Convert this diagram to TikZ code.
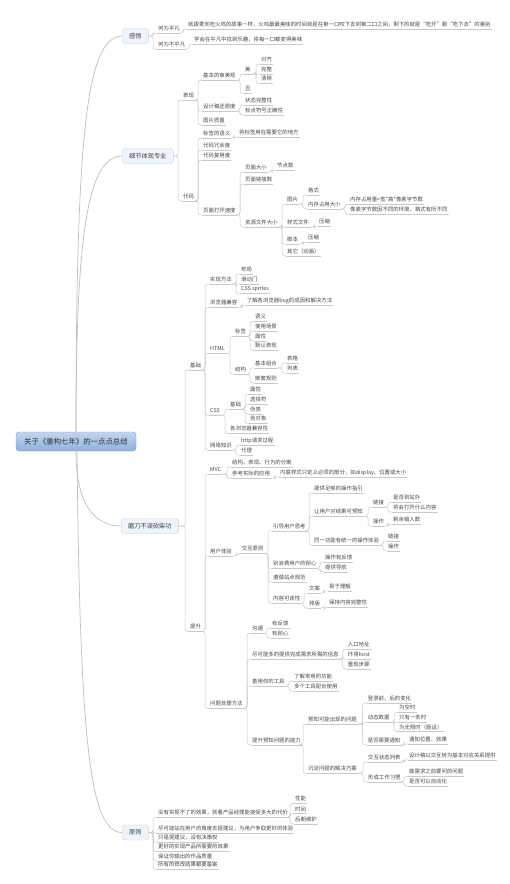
\documentclass[tikz,border=0pt]{standalone}
\usepackage{fontspec}
\setmainfont{Noto Sans CJK SC}
\usepackage{xcolor}
\usepackage{tikz}
\definecolor{roottop}{HTML}{C2D5EF}
\definecolor{rootbot}{HTML}{8FB0DC}
\definecolor{rootline}{HTML}{7E9FCC}
\definecolor{topicfill}{HTML}{EEF4FB}
\definecolor{topicline}{HTML}{C5D5E8}
\definecolor{linegray}{HTML}{C9C9C9}
\newcommand\tnfont{\fontsize{5.4}{6}\selectfont}
% parent underline -> child underline, elbow trunk just before the child
\newcommand\lnk[2]{\draw[ln] (#1.south east) -| ([xshift=-4pt]#2.south west) -- (#2.south west);}
\newcommand\lnkb[2]{\draw[ln] (#1.east) -| ([xshift=-4pt]#2.south west) -- (#2.south west);}
\tikzset{
    rootbox/.style={draw=rootline, top color=roottop, bottom color=rootbot, rounded corners=3pt,
                    font=\fontsize{7.4}{8}\selectfont, text=black!80, minimum width=120pt, minimum height=19pt},
    topic/.style={anchor=west, draw=topicline, fill=topicfill, rounded corners=3pt,
                  font=\fontsize{6.2}{7}\selectfont, text=black!75, inner xsep=7pt, minimum height=15pt},
    tn/.style={anchor=west, font=\tnfont, text=black!72, inner xsep=1pt, inner ysep=1.2pt,
               text height=4.3pt, text depth=1.1pt,
               append after command={(\tikzlastnode.south west) edge[uline] (\tikzlastnode.south east)}},
    uline/.style={draw=linegray, line width=0.45pt},
    ln/.style={draw=linegray, line width=0.5pt, rounded corners=2.5pt},
    rln/.style={draw=black!25, line width=0.7pt},
}

\begin{document}
\begin{tikzpicture}[x=1pt, y=-1pt]
    \fill[white] (0,0) rectangle (510,884);
    \useasboundingbox (0,0) rectangle (510,884);

    \node[rootbox] (root) at (76,441.5) {关于《重构七年》的一点点总结};
    \node[topic] (insight) at (122,36) {感悟};
    \node[topic] (detail) at (122,156) {细节体现专业};
    \node[topic] (grind) at (121,526) {磨刀不误砍柴功};
    \node[topic] (principle) at (122,832.5) {原则};
    \draw[rln] (root.north) .. controls (76,120) and (88,38) .. (insight.west);
    \draw[rln] (root.north) .. controls (76,230) and (88,157) .. (detail.west);
    \draw[rln] (root.south) .. controls (76,505) and (95,526) .. (grind.west);
    \draw[rln] ([xshift=1pt]root.south) .. controls (80,745) and (90,832) .. (principle.west);

    % 感悟
    \node[tn] (ordinary) at (157,29) {何为平凡};
    \node[tn] (ordtxt) at (187,25) {就跟麦兜吃火鸡的故事一样，火鸡最最美味的时间就是在第一口咬下去到第二口之间，剩下的就是“吃开”跟“吃下去”的差别};
    \node[tn] (extra) at (157,45) {何为不平凡};
    \node[tn] (extxt) at (193,40) {学会在平凡中找到乐趣，将每一口都变得美味};
    \lnkb{insight}{ordinary} \lnkb{insight}{extra}
    \lnk{ordinary}{ordtxt} \lnk{extra}{extxt}

    % 细节体现专业
    \node[tn] (look) at (182,95.7) {表现};
    \node[tn] (aesth) at (202,76) {基本的审美观};
    \node[tn] (beauty) at (244,70) {美};
    \node[tn] (align) at (260,60) {对齐};
    \node[tn] (whole) at (260,69.7) {完整};
    \node[tn] (clear) at (260,79.3) {清晰};
    \node[tn] (ugly) at (244,89.3) {丑};
    \node[tn] (fidelity) at (202,106.7) {设计稿还原度};
    \node[tn] (state) at (244,101) {状态完整性};
    \node[tn] (punct) at (244,111) {标点符号正确性};
    \node[tn] (imgq) at (202,121) {图片质量};
    \node[tn] (code) at (182,197) {代码};
    \node[tn] (semtag) at (202,134) {标签的语义};
    \node[tn] (semtxt) at (238,132.7) {将标签用在需要它的地方};
    \node[tn] (redund) at (202,145.7) {代码冗余度};
    \node[tn] (reuse) at (202,156) {代码复用度};
    \node[tn] (speed) at (202,210.7) {页面打开速度};
    \node[tn] (psize) at (244,168) {页面大小};
    \node[tn] (nodecnt) at (276,166) {节点数};
    \node[tn] (plinks) at (244,180) {页面链接数};
    \node[tn] (res) at (244,222.7) {资源文件大小};
    \node[tn] (img) at (286,200) {图片};
    \node[tn] (fmt) at (307,190.7) {格式};
    \node[tn] (mem) at (307,204.7) {内存占用大小};
    \node[tn] (memtxt) at (349,200) {内存占用量=宽*高*像素字节数};
    \node[tn] (pixtxt) at (349,210) {像素字节数因不同的环境、格式有所不同};
    \node[tn] (sheet) at (286,223.3) {样式文件};
    \node[tn] (sheetzip) at (318,221.7) {压缩};
    \node[tn] (script) at (286,240) {脚本};
    \node[tn] (scriptzip) at (307,238) {压缩};
    \node[tn] (other) at (286,251.7) {其它（动画）};
    \lnkb{detail}{look} \lnkb{detail}{code}
    \foreach \c in {aesth,fidelity,imgq} \lnk{look}{\c};
    \lnk{aesth}{beauty} \lnk{aesth}{ugly}
    \foreach \c in {align,whole,clear} \lnk{beauty}{\c};
    \lnk{fidelity}{state} \lnk{fidelity}{punct}
    \foreach \c in {semtag,redund,reuse,speed} \lnk{code}{\c};
    \lnk{semtag}{semtxt}
    \foreach \c in {psize,plinks,res} \lnk{speed}{\c};
    \lnk{psize}{nodecnt}
    \foreach \c in {img,sheet,script,other} \lnk{res}{\c};
    \lnk{img}{fmt} \lnk{img}{mem}
    \lnk{mem}{memtxt} \lnk{mem}{pixtxt}
    \lnk{sheet}{sheetzip} \lnk{script}{scriptzip}

    % 磨刀不误砍柴功 / 基础
    \node[tn] (basic) at (189,365.7) {基础};
    \node[tn] (impl) at (209,280) {实现方法};
    \node[tn] (layout) at (240,269.7) {布局};
    \node[tn] (sliding) at (240,279.7) {滑动门};
    \node[tn] (sprites) at (240,289.3) {CSS sprites};
    \node[tn] (compat) at (209,303.3) {浏览器兼容};
    \node[tn] (compattxt) at (245.7,301) {了解各浏览器bug的成因和解决方法};
    \node[tn] (html) at (209,349.3) {HTML};
    \node[tn] (tags) at (234,332.3) {标签};
    \node[tn] (sem) at (254,317.3) {语义};
    \node[tn] (usage) at (254,327) {使用场景};
    \node[tn] (attrs) at (254,336.7) {属性};
    \node[tn] (defaults) at (254,346.3) {默认表现};
    \node[tn] (struct) at (234,370) {结构};
    \node[tn] (combo) at (254,363.7) {基本组合};
    \node[tn] (table) at (286,358.7) {表格};
    \node[tn] (list) at (286,369) {列表};
    \node[tn] (nesting) at (254,378.7) {嵌套规则};
    \node[tn] (css) at (209,411) {CSS};
    \node[tn] (cssbase) at (229,405) {基础};
    \node[tn] (prop) at (249,390) {属性};
    \node[tn] (sel) at (249,400) {选择符};
    \node[tn] (pcls) at (249,410) {伪类};
    \node[tn] (pobj) at (249,419.3) {伪对象};
    \node[tn] (csscompat) at (229,429.3) {各浏览器兼容性};
    \node[tn] (net) at (209,446) {网络知识};
    \node[tn] (http) at (240,441) {http请求过程};
    \node[tn] (proxy) at (240,451) {代理};
    \lnkb{grind}{basic}
    \foreach \c in {impl,compat,html,css,net} \lnk{basic}{\c};
    \foreach \c in {layout,sliding,sprites} \lnk{impl}{\c};
    \lnk{compat}{compattxt}
    \lnk{html}{tags} \lnk{html}{struct}
    \foreach \c in {sem,usage,attrs,defaults} \lnk{tags}{\c};
    \lnk{struct}{combo} \lnk{struct}{nesting}
    \lnk{combo}{table} \lnk{combo}{list}
    \lnk{css}{cssbase} \lnk{css}{csscompat}
    \foreach \c in {prop,sel,pcls,pobj} \lnk{cssbase}{\c};
    \lnk{net}{http} \lnk{net}{proxy}

    % 磨刀不误砍柴功 / 提升
    \node[tn] (adv) at (189,627.3) {提升};
    \node[tn] (mvc) at (209,470) {MVC};
    \node[tn] (split) at (231,462.7) {结构、表现、行为的分离};
    \node[tn] (apply) at (231,474.3) {参考实际的应用};
    \node[tn] (inline) at (279,472.7) {内联样式只定义必须的部分，如display、位置或大小};
    \node[tn] (ux) at (209,551.7) {用户体验};
    \node[tn] (rules) at (240.7,549.3) {交互原则};
    \node[tn] (guide) at (272,526.7) {引导用户思考};
    \node[tn] (hint) at (313,488.7) {提供足够的操作指引};
    \node[tn] (predict) at (313,512) {让用户对结果可预知};
    \node[tn] (plink) at (372,503) {链接};
    \node[tn] (offsite) at (392,498.3) {是否到站外};
    \node[tn] (opens) at (392,508) {将会打开什么内容};
    \node[tn] (pop) at (372,522) {操作};
    \node[tn] (remain) at (392,520) {剩余输入数};
    \node[tn] (unify) at (313,541) {同一功能有统一的操作体验};
    \node[tn] (ulink) at (387,536.7) {链接};
    \node[tn] (uop) at (387,546.7) {操作};
    \node[tn] (patience) at (272,564.3) {别浪费用户的耐心};
    \node[tn] (feedback) at (324,557.7) {操作有反馈};
    \node[tn] (nav) at (324,567.7) {提供导航};
    \node[tn] (norms) at (272,577.7) {遵循站点规范};
    \node[tn] (read) at (272,599.3) {内容可读性};
    \node[tn] (copy) at (308,589) {文案};
    \node[tn] (easy) at (328,586.7) {易于理解};
    \node[tn] (typo) at (308,604) {排版};
    \node[tn] (intact) at (328,603.3) {保持内容完整性};
    \lnkb{grind}{adv}
    \lnk{adv}{mvc} \lnk{adv}{ux}
    \lnk{mvc}{split} \lnk{mvc}{apply} \lnk{apply}{inline}
    \lnk{ux}{rules}
    \foreach \c in {guide,patience,norms,read} \lnk{rules}{\c};
    \foreach \c in {hint,predict,unify} \lnk{guide}{\c};
    \lnk{predict}{plink} \lnk{predict}{pop}
    \lnk{plink}{offsite} \lnk{plink}{opens} \lnk{pop}{remain}
    \lnk{unify}{ulink} \lnk{unify}{uop}
    \lnk{patience}{feedback} \lnk{patience}{nav}
    \lnk{read}{copy} \lnk{read}{typo}
    \lnk{copy}{easy} \lnk{typo}{intact}

    % 问题处理方法
    \node[tn] (method) at (209,704.3) {问题处理方法};
    \node[tn] (talk) at (251,629.3) {沟通};
    \node[tn] (fb) at (271,624) {有反馈};
    \node[tn] (patient) at (271,634) {有耐心};
    \node[tn] (info) at (251,655) {尽可能多的提供完成需求所需的信息};
    \node[tn] (entry) at (346.7,645.3) {入口地址};
    \node[tn] (host) at (346.7,655) {环境host};
    \node[tn] (repro) at (346.7,664.7) {重现步骤};
    \node[tn] (tools) at (251,681.7) {善用你的工具};
    \node[tn] (common) at (293,676.7) {了解常用的功能};
    \node[tn] (combine) at (293,687) {多个工具配合使用};
    \node[tn] (foresee) at (251,740.7) {提升预知问题的能力};
    \node[tn] (pre) at (307,720) {预知可能出现的问题};
    \node[tn] (login) at (366.7,698.7) {登录前、后的变化};
    \node[tn] (dyn) at (366.7,718.3) {动态数据};
    \node[tn] (empty) at (398,708.3) {为空时};
    \node[tn] (one) at (398,718) {只有一条时};
    \node[tn] (inf) at (398,727.5) {为无限时（假设）};
    \node[tn] (notify) at (366.7,740.7) {是否需要通知};
    \node[tn] (notipos) at (408,739.7) {通知位置、效果};
    \node[tn] (settle) at (307,769) {沉淀问题的解决方案};
    \node[tn] (states) at (367,757.7) {交互状态列表};
    \node[tn] (statestxt) at (408,755.7) {设计稿以交互转为基本对应关系提供};
    \node[tn] (habit) at (367,777.7) {形成工作习惯};
    \node[tn] (ask) at (408,772.3) {做需求之前要问的问题};
    \node[tn] (auto) at (408,782) {是否可以自动化};
    \lnk{adv}{method}
    \foreach \c in {talk,info,tools,foresee} \lnk{method}{\c};
    \lnk{talk}{fb} \lnk{talk}{patient}
    \foreach \c in {entry,host,repro} \lnk{info}{\c};
    \lnk{tools}{common} \lnk{tools}{combine}
    \lnk{foresee}{pre} \lnk{foresee}{settle}
    \foreach \c in {login,dyn,notify} \lnk{pre}{\c};
    \foreach \c in {empty,one,inf} \lnk{dyn}{\c};
    \lnk{notify}{notipos}
    \lnk{settle}{states} \lnk{settle}{habit}
    \lnk{states}{statestxt}
    \lnk{habit}{ask} \lnk{habit}{auto}

    % 原则
    \node[tn] (cost) at (157,813.3) {没有实现不了的效果，就看产品经理能接受多大的代价};
    \node[tn] (perf) at (294,799.3) {性能};
    \node[tn] (time) at (294,809.6) {时间};
    \node[tn] (maint) at (294,819.7) {后期维护};
    \node[tn] (uxadv) at (157,829) {尽可能站在用户的角度去提建议，为用户争取更好的体验};
    \node[tn] (noauth) at (157,838) {只是提建议，没有决策权};
    \node[tn] (better) at (157,847.3) {更好的实现产品所需要的效果};
    \node[tn] (quality) at (157,856.7) {保证你输出的作品质量};
    \node[tn] (record) at (157,865.3) {所有的修改结果都要备案};
    \foreach \c in {cost,uxadv,noauth,better,quality,record} \lnkb{principle}{\c};
    \foreach \c in {perf,time,maint} \lnk{cost}{\c};
\end{tikzpicture}
\end{document}
